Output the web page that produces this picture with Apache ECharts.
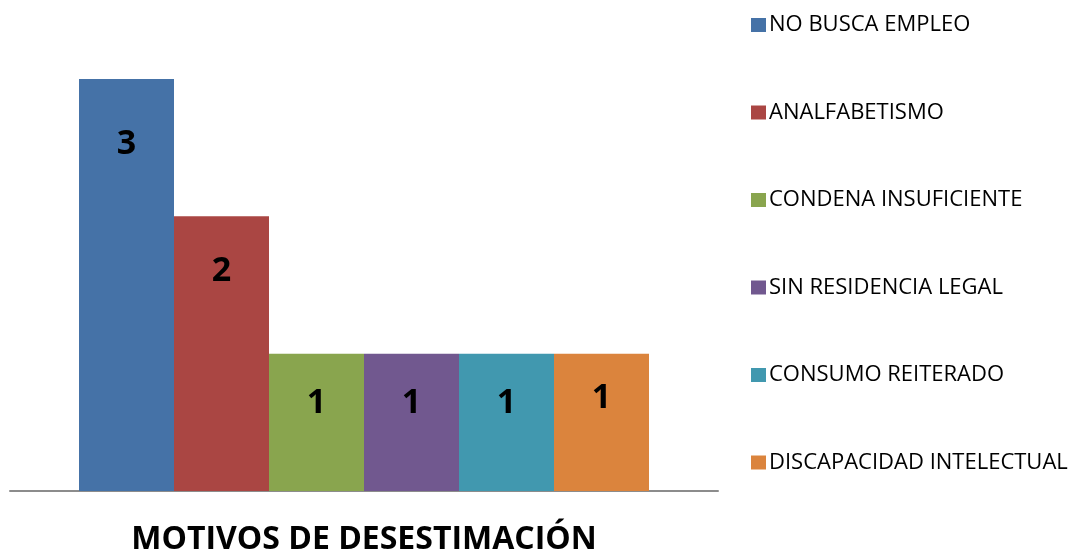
<!DOCTYPE html>
<html>
<head>
<meta charset="utf-8">
<script src="https://cdn.jsdelivr.net/npm/echarts@6/dist/echarts.min.js"></script>
<style>
  html, body { margin: 0; padding: 0; background: #fff; }
  #chart { width: 1084px; height: 553px; }
</style>
</head>
<body>
<div id="chart"></div>
<script>
// datos del gráfico
const categories = ['MOTIVOS DE DESESTIMACIÓN'];
const seriesNames = ['NO BUSCA EMPLEO', 'ANALFABETISMO', 'CONDENA INSUFICIENTE', 'SIN RESIDENCIA LEGAL', 'CONSUMO REITERADO', 'DISCAPACIDAD INTELECTUAL'];
const seriesValues = [3, 2, 1, 1, 1, 1];
const seriesColors = ['#4572A7', '#AA4643', '#89A54E', '#71588F', '#4198AF', '#DB843D'];
// distancia de la etiqueta desde el borde superior de la barra
const labelDistances = [48, 38, 33, 33, 33, 28];

const chart = echarts.init(document.getElementById('chart'));

const series = seriesNames.map((name, i) => ({
  name: name,
  type: 'bar',
  data: [seriesValues[i]],
  barWidth: 95,
  barGap: '0%',
  itemStyle: { color: seriesColors[i] },
  label: {
    show: true,
    position: 'insideTop',
    distance: labelDistances[i],
    color: '#000',
    fontFamily: 'Open Sans',
    fontWeight: 'bold',
    fontSize: 34
  }
}));

chart.setOption({
  animation: false,
  textStyle: { fontFamily: 'Open Sans' },
  legend: {
    orient: 'vertical',
    left: 746,
    top: 9,
    itemWidth: 15,
    itemHeight: 14,
    itemGap: 65.5,
    icon: 'rect',
    textStyle: { fontSize: 22, color: '#000', padding: [0, 0, 0, -2] },
    data: seriesNames
  },
  grid: { left: 10, right: 366, top: 79, bottom: 62, outerBoundsMode: 'none', containLabel: false },
  xAxis: {
    type: 'category',
    data: categories,
    axisLine: { show: true, lineStyle: { color: '#8c8c8c', width: 2 } },
    axisTick: { show: false },
    axisLabel: {
      show: true,
      margin: 33,
      color: '#000',
      fontFamily: 'Open Sans',
      fontWeight: 'bold',
      fontSize: 32
    }
  },
  yAxis: {
    type: 'value',
    min: 0,
    max: 3,
    show: false,
    splitLine: { show: false }
  },
  series: series
});
</script>
</body>
</html>
